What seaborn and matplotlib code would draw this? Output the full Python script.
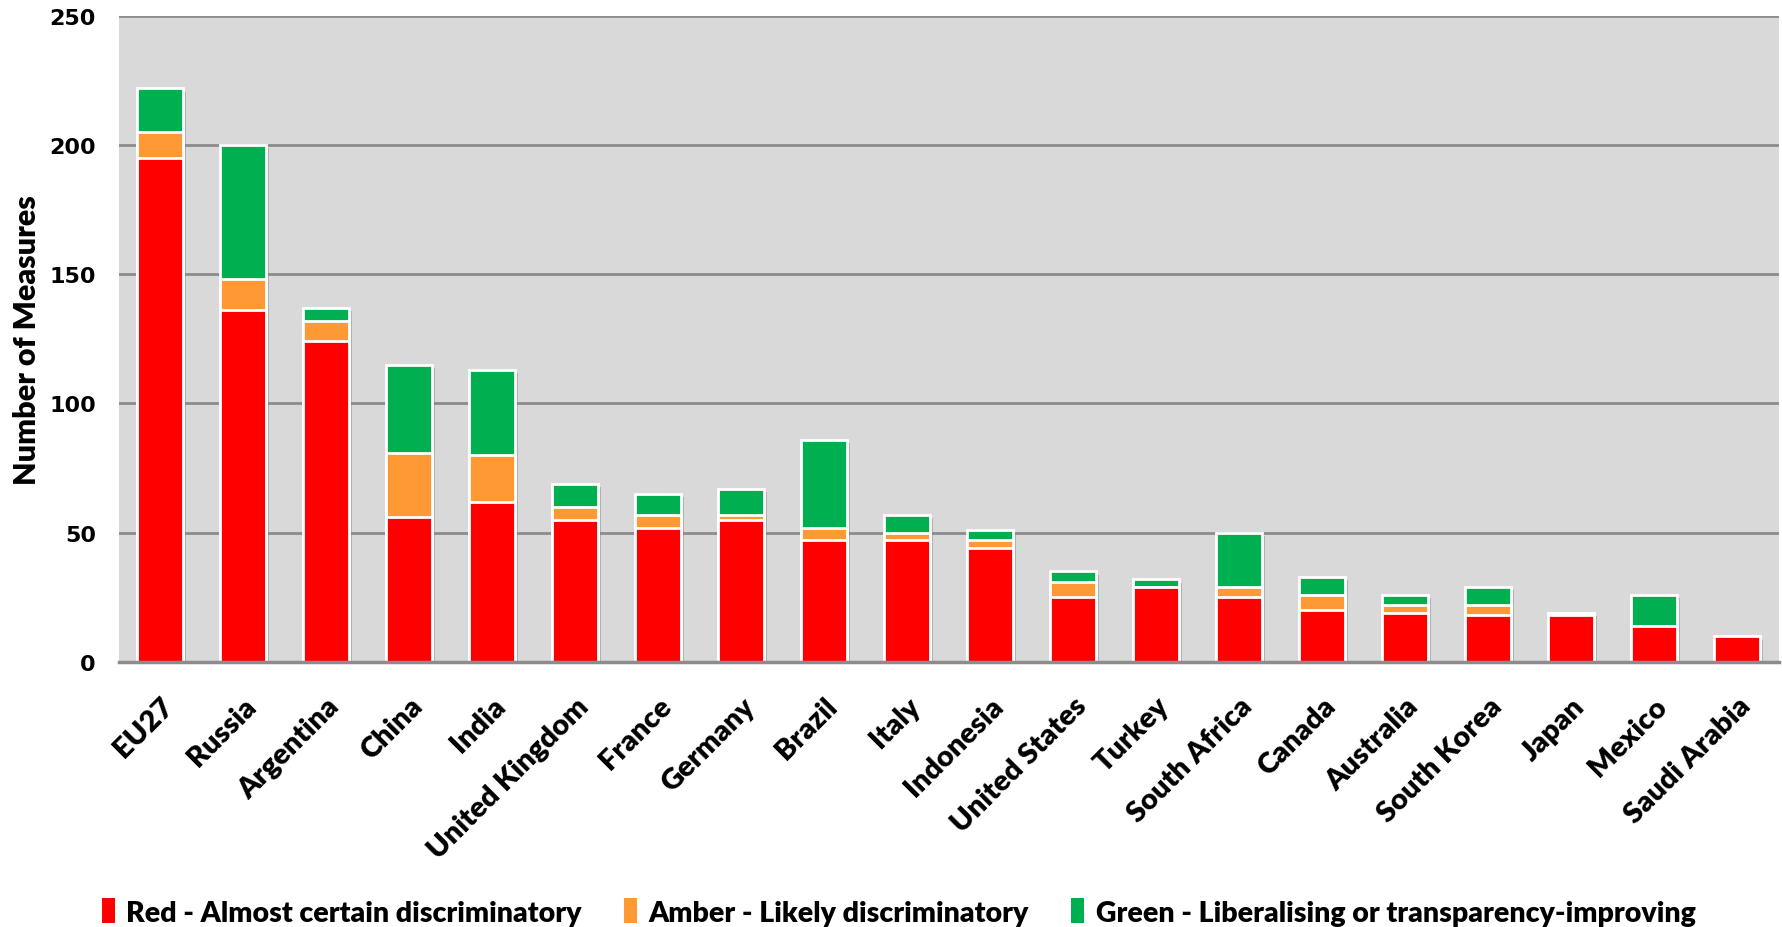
import numpy as np
import pandas as pd
import matplotlib
matplotlib.use("Agg")
import matplotlib.pyplot as plt
import matplotlib.patheffects as pe
from matplotlib.patches import Patch
import seaborn as sns

countries = ["EU27", "Russia", "Argentina", "China", "India", "United Kingdom",
             "France", "Germany", "Brazil", "Italy", "Indonesia", "United States",
             "Turkey", "South Africa", "Canada", "Australia", "South Korea",
             "Japan", "Mexico", "Saudi Arabia"]
red = [195, 136, 124, 56, 62, 55, 52, 55, 47, 47, 44, 25, 29, 25, 20, 19, 18, 18, 14, 10]
amber = [10, 12, 8, 25, 18, 5, 5, 2, 5, 3, 3, 6, 0, 4, 6, 3, 4, 1, 0, 0]
green = [17, 52, 5, 34, 33, 9, 8, 10, 34, 7, 4, 4, 3, 21, 7, 4, 7, 0, 12, 0]

legend_labels = ["Red - Almost certain discriminatory",
                 "Amber - Likely discriminatory",
                 "Green - Liberalising or transparency-improving"]
colors = ["#FF0000", "#FF9933", "#00B050"]

df = pd.DataFrame({"country": countries, "red": red, "amber": amber, "green": green})
df["red_amber"] = df["red"] + df["amber"]
df["total"] = df["red_amber"] + df["green"]

sns.set_style("white")
plt.rcParams["font.family"] = ["Lato", "DejaVu Sans"]
plt.rcParams["text.color"] = "black"
plt.rcParams["axes.labelcolor"] = "black"
plt.rcParams["xtick.color"] = "black"
plt.rcParams["ytick.color"] = "black"

fig, ax = plt.subplots(figsize=(17.83, 9.28), dpi=100)
fig.subplots_adjust(left=0.067, right=0.998, top=0.982, bottom=0.2856)
ax.set_facecolor("#D9D9D9")

shadow = [pe.SimplePatchShadow(offset=(2.5, -2.5), shadow_rgbFace="#808080", alpha=0.45), pe.Normal()]
# stacked look: draw cumulative bars, tallest first
for col, c, fx in [("total", colors[2], shadow), ("red_amber", colors[1], None), ("red", colors[0], None)]:
    sns.barplot(data=df, x="country", y=col, color=c, saturation=1, width=0.55,
                edgecolor="white", linewidth=2, ax=ax, zorder=3)
    if fx:
        for p in ax.patches:
            p.set_path_effects(fx)

ax.set_ylim(0, 250)
ax.set_xlim(-0.49, len(countries) - 0.49)
ax.set_yticks(np.arange(0, 251, 50))
ax.yaxis.grid(True, color="#8C8C8C", linewidth=2)
ax.set_axisbelow(True)
for s in ["top", "right", "left"]:
    ax.spines[s].set_visible(False)
ax.spines["bottom"].set_color("#8C8C8C")
ax.spines["bottom"].set_linewidth(2.5)
ax.spines["bottom"].set_zorder(4)

ax.tick_params(axis="both", length=0)
ax.tick_params(axis="y", pad=17)
ax.tick_params(axis="x", pad=22)
for t in ax.get_yticklabels():
    t.set_family("DejaVu Sans")
    t.set_fontweight("bold")
    t.set_fontsize(16)
ax.set_xticks(range(len(countries)))
ax.set_xticklabels(countries, rotation=45, ha="right", rotation_mode="anchor",
                   fontsize=21, fontweight="heavy")
ax.set_xlabel("")
ax.set_ylabel("Number of Measures", fontsize=22, fontweight="heavy", labelpad=6)

handles = [Patch(facecolor=c, edgecolor="none") for c in colors]
fig.legend(handles, legend_labels, loc="lower center", bbox_to_anchor=(0.504, -0.026),
           ncol=3, frameon=False, prop={"family": ["Lato", "DejaVu Sans"], "weight": "heavy", "size": 20.5},
           handlelength=0.45, handleheight=1.0, handletextpad=0.4, columnspacing=1.5)

fig.savefig("out.png", dpi=100)
